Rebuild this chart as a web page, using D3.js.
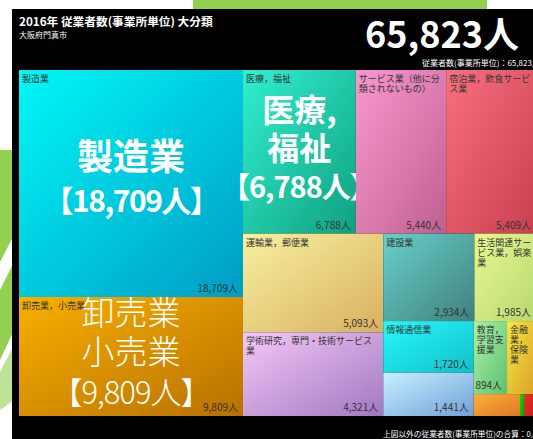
<!DOCTYPE html>
<html lang="ja">
<head>
<meta charset="UTF-8">
<title>2016年 従業者数(事業所単位) 大分類</title>
<script src="https://cdn.jsdelivr.net/npm/d3@7/dist/d3.min.js"></script>
<style>
    body { margin: 0; background: #fff; overflow: hidden; }
    svg { display: block; font-family: "Noto Sans CJK JP", sans-serif; }
</style>
</head>
<body>
<script>
    // 産業大分類と従業者数
    const categories = [
        "製造業", "卸売業，小売業", "医療，福祉", "サービス業（他に分類されないもの）",
        "宿泊業，飲食サービス業", "運輸業，郵便業", "学術研究，専門・技術サービス業",
        "建設業", "生活関連サービス業，娯楽業", "情報通信業", "不動産業，物品賃貸業",
        "教育，学習支援業", "金融業，保険業", "複合サービス事業",
        "電気・ガス・熱供給・水道業", "農林漁業"
    ];
    const values = [18709, 9809, 6788, 5440, 5409, 5093, 4321, 2934, 1985, 1720, 1441, 894, 778, 373, 32, 97];

    // グラデーション (左上 → 右下)
    const colorsLight = ["#00f8f8", "#f8b000", "#30f0d0", "#f898d0", "#f87080", "#f8f0a0", "#f4c8f8", "#68d0c8",
        "#e8f890", "#28f8f8", "#c8f0ff", "#a8f0a8", "#f8e840", "#f8b040", "#10d810", "#e83020"];
    const colorsDark = ["#009cc4", "#b87000", "#10a080", "#c06090", "#c84050", "#d8b060", "#a078c0", "#408080",
        "#b8d870", "#10c0c8", "#70a0d8", "#60c070", "#d8a028", "#e07820", "#00a800", "#c02020"];

    const total = 65823;
    const otherTotal = 0;

    // 大きいラベル
    const bigLabels = {
        "製造業": {lines: ["製造業"], size: 36, vsize: 30, ls: -1.5, lh: 42, weight: 'bold'},
        "卸売業，小売業": {lines: ["卸売業", "小売業"], size: 33, vsize: 31, ls: -1, lh: 40, weight: 300},
        "医療，福祉": {lines: ["医療,", "福祉"], size: 32, vsize: 29, ls: -1, lh: 38, weight: 'bold'}
    };

    const width = 533;
    const height = 439;
    const fmt = d3.format(",");

    const svg = d3.select('body').append('svg')
        .attr('width', width)
        .attr('height', height);

    // 背景の飾り
    const deco = svg.append('g').attr('fill', '#92d050');
    deco.append('rect').attr('x', 193).attr('y', 0).attr('width', 294).attr('height', 12);
    deco.append('path').attr('d', 'M0,150 L14,150 L14,235 L0,262 Z');
    deco.append('path').attr('d', 'M0,290 L14,262 L14,330 L0,360 Z');
    deco.append('path').attr('d', 'M0,372 L14,345 L14,400 L0,410 Z').attr('opacity', 0.6);

    // 黒いパネル
    svg.append('rect')
        .attr('x', 12).attr('y', 9)
        .attr('width', 540).attr('height', 440)
        .attr('fill', '#000');

    // タイトル
    svg.append('text').attr('x', 19).attr('y', 26)
        .attr('fill', '#fff').attr('font-size', 11.7).attr('font-weight', 'bold')
        .text('2016年 従業者数(事業所単位) 大分類');
    svg.append('text').attr('x', 19).attr('y', 38)
        .attr('fill', '#fff').attr('font-size', 8)
        .text('大阪府門真市');
    svg.append('text').attr('x', 519).attr('y', 48)
        .attr('text-anchor', 'end')
        .attr('fill', '#fff').attr('font-size', 36).attr('font-weight', 'bold')
        .text(fmt(total) + '人');
    svg.append('text').attr('x', 422).attr('y', 66)
        .attr('fill', '#fff').attr('font-size', 8)
        .text('従業者数(事業所単位)：' + fmt(total) + '人');
    svg.append('text').attr('x', 383).attr('y', 437)
        .attr('fill', '#fff').attr('font-size', 7.7)
        .text('上図以外の従業者数(事業所単位)の合算：' + fmt(otherTotal) + '人');

    // ツリーマップ
    const data = categories.map((c, i) => ({name: c, value: values[i], i: i}));
    const root = d3.hierarchy({children: data}).sum(d => d.value || 0);
    d3.treemap().size([517, 346]).tile(d3.treemapSquarify)(root);

    const defs = svg.append('defs');
    data.forEach((d, i) => {
        const g = defs.append('linearGradient').attr('id', 'grad' + i)
            .attr('x1', 0).attr('y1', 0).attr('x2', 1).attr('y2', 1);
        g.append('stop').attr('offset', '0%').attr('stop-color', colorsLight[i]);
        g.append('stop').attr('offset', '100%').attr('stop-color', colorsDark[i]);
    });

    const chart = svg.append('g').attr('transform', 'translate(19,70)');

    const cells = chart.selectAll('g.cell')
        .data(root.leaves())
        .enter()
        .append('g')
        .attr('class', 'cell')
        .attr('transform', d => `translate(${d.x0},${d.y0})`);

    cells.append('rect')
        .attr('width', d => d.x1 - d.x0)
        .attr('height', d => d.y1 - d.y0)
        .attr('fill', d => `url(#grad${d.data.i})`);

    // 文字単位の折り返し
    function wrapChars(textSel, str, maxW) {
        let lines = [], cur = '';
        for (const ch of str) {
            textSel.text(cur + ch);
            if (cur && textSel.node().getComputedTextLength() > maxW) {
                lines.push(cur);
                cur = ch;
            } else {
                cur += ch;
            }
        }
        lines.push(cur);
        textSel.text(null);
        return lines;
    }

    // 業種名 (左上)
    cells.each(function (d) {
        const w = d.x1 - d.x0, h = d.y1 - d.y0;
        if (h < 45) return;
        const t = d3.select(this).append('text')
            .attr('font-size', 9)
            .attr('fill', '#333');
        const lines = wrapChars(t, d.data.name, w - 6);
        t.selectAll('tspan').data(lines).enter().append('tspan')
            .attr('x', 3)
            .attr('y', (l, k) => 12 + k * 10)
            .text(l => l);
    });

    // 人数 (右下)
    cells.each(function (d) {
        const w = d.x1 - d.x0, h = d.y1 - d.y0;
        if (h < 30) return;
        const t = d3.select(this).append('text')
            .attr('x', w - 5)
            .attr('y', h - 5)
            .attr('text-anchor', 'end')
            .attr('font-size', 10)
            .attr('fill', '#333')
            .text(fmt(d.value) + '人');
        if (t.node().getComputedTextLength() > w - 4) t.remove();
    });

    // 大きいラベル
    cells.filter(d => bigLabels[d.data.name]).each(function (d) {
        const b = bigLabels[d.data.name];
        const w = d.x1 - d.x0, h = d.y1 - d.y0;
        const lines = b.lines.concat(['【' + fmt(d.value) + '人】']);
        const n = lines.length;
        d3.select(this).append('text')
            .attr('text-anchor', 'middle')
            .attr('fill', '#fff')
            .attr('font-weight', b.weight)
            .selectAll('tspan')
            .data(lines)
            .enter()
            .append('tspan')
            .attr('x', w / 2)
            .attr('y', (l, k) => h / 2 + (k - (n - 1) / 2) * b.lh + 8)
            .attr('font-size', (l, k) => k === n - 1 ? b.vsize : b.size)
            .attr('letter-spacing', (l, k) => k === n - 1 ? b.ls : 0)
            .text(l => l);
    });
</script>
</body>
</html>
